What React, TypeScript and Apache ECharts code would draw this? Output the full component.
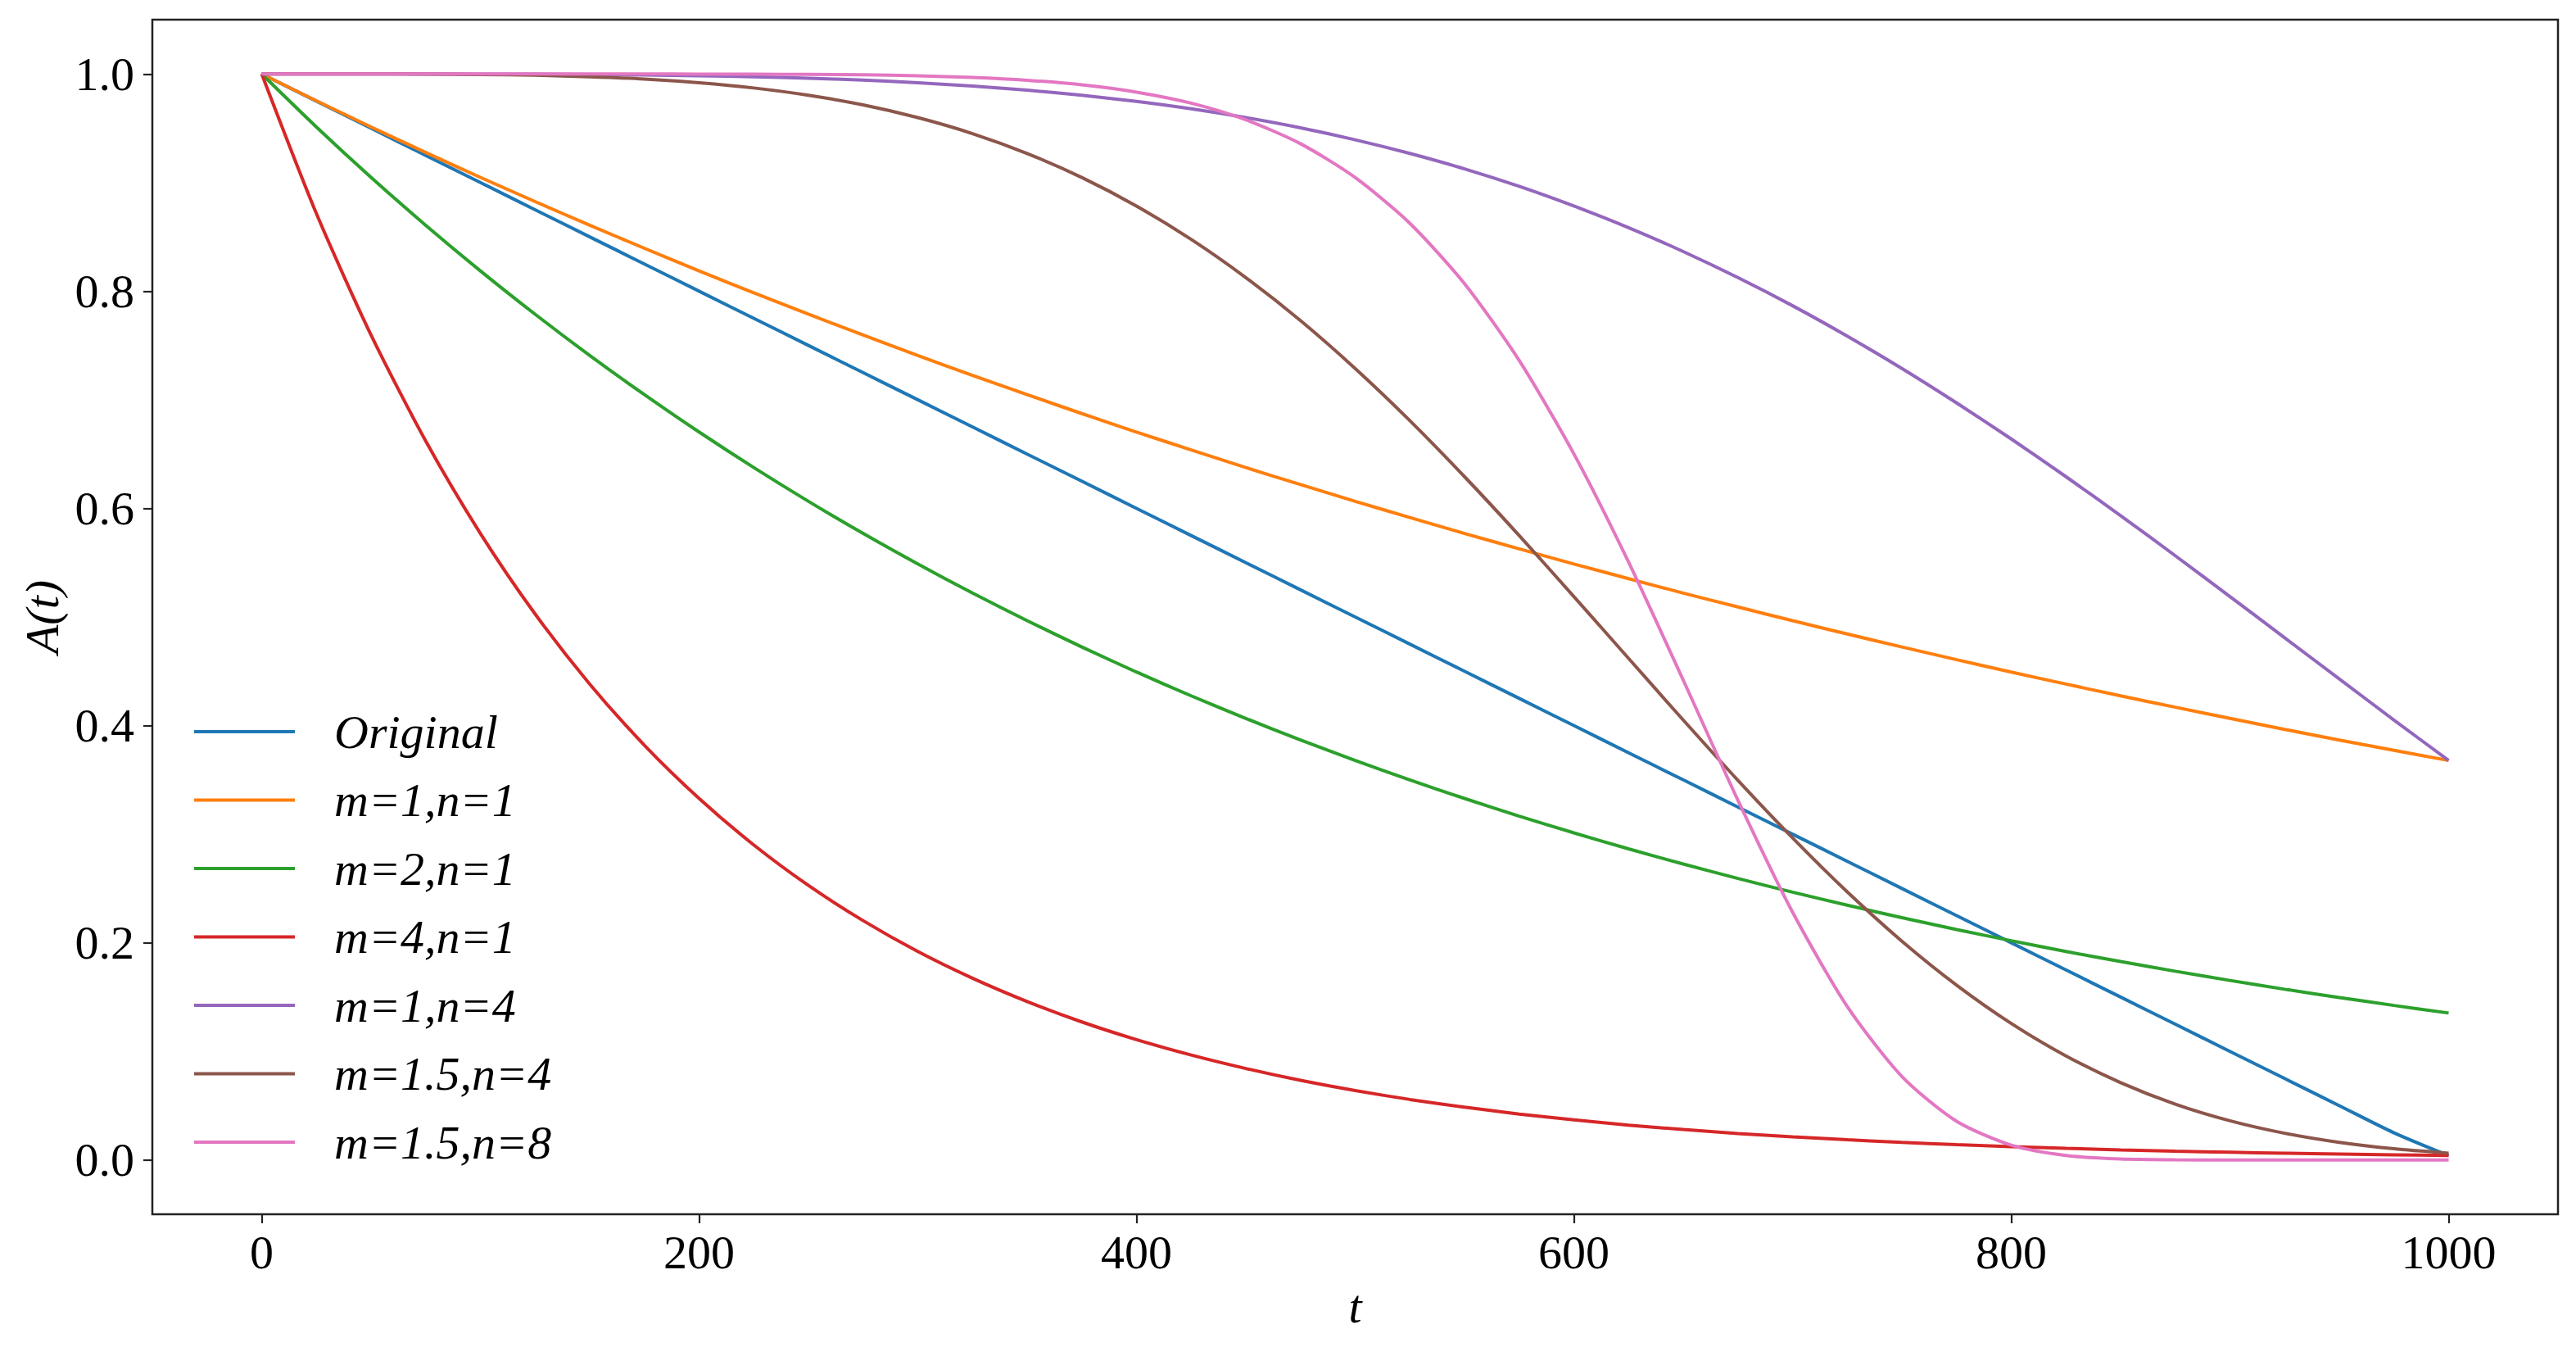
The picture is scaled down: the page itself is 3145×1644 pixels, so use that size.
import React, { useEffect, useRef } from "react";
import * as echarts from "echarts";

// t values (x axis)
const T = [
  0, 25, 50, 75, 100, 125, 150, 175, 200, 225, 250, 275, 300, 325, 350, 375, 400,
  425, 450, 475, 500, 525, 550, 575, 600, 625, 650, 675, 700, 725, 750, 775, 800,
  825, 850, 875, 900, 925, 950, 975, 1000,
];

const ORIGINAL = [
  1, 0.975, 0.95, 0.925, 0.9, 0.875, 0.85, 0.825, 0.8, 0.775, 0.75, 0.725, 0.7, 0.675,
  0.65, 0.625, 0.6, 0.575, 0.55, 0.525, 0.5, 0.475, 0.45, 0.425, 0.4, 0.375, 0.35,
  0.325, 0.3, 0.275, 0.25, 0.225, 0.2, 0.175, 0.15, 0.125, 0.1, 0.075, 0.05, 0.025, 0.004,
];

const M1_N1 = [
  1, 0.9753, 0.9512, 0.9277, 0.9048, 0.8825, 0.8607, 0.8395, 0.8187, 0.7985, 0.7788,
  0.7596, 0.7408, 0.7225, 0.7047, 0.6873, 0.6703, 0.6538, 0.6376, 0.6219, 0.6065,
  0.5916, 0.5769, 0.5627, 0.5488, 0.5353, 0.522, 0.5092, 0.4966, 0.4843, 0.4724,
  0.4607, 0.4493, 0.4382, 0.4274, 0.4169, 0.4066, 0.3965, 0.3867, 0.3772, 0.3679,
];

const M2_N1 = [
  1, 0.9512, 0.9048, 0.8607, 0.8187, 0.7788, 0.7408, 0.7047, 0.6703, 0.6376, 0.6065,
  0.5769, 0.5488, 0.522, 0.4966, 0.4724, 0.4493, 0.4274, 0.4066, 0.3867, 0.3679,
  0.3499, 0.3329, 0.3166, 0.3012, 0.2865, 0.2725, 0.2592, 0.2466, 0.2346, 0.2231,
  0.2122, 0.2019, 0.192, 0.1827, 0.1738, 0.1653, 0.1572, 0.1496, 0.1423, 0.1353,
];

const M4_N1 = [
  1, 0.8715, 0.7596, 0.662, 0.5769, 0.5028, 0.4382, 0.3819, 0.3329, 0.2901, 0.2528,
  0.2204, 0.192, 0.1674, 0.1459, 0.1271, 0.1108, 0.0966, 0.0842, 0.0733, 0.0639,
  0.0557, 0.0486, 0.0423, 0.0369, 0.0321, 0.028, 0.0244, 0.0213, 0.0186, 0.0162,
  0.0141, 0.0123, 0.0107, 0.0093, 0.0081, 0.0071, 0.0062, 0.0054, 0.0047, 0.0041,
];

const M1_N4 = [
  1, 1, 1, 1, 0.9999, 0.9998, 0.9995, 0.9991, 0.9984, 0.9974, 0.9961, 0.9943, 0.9919,
  0.9889, 0.9851, 0.9804, 0.9747, 0.9679, 0.9598, 0.9504, 0.9394, 0.9268, 0.9126,
  0.8965, 0.8784, 0.8585, 0.8365, 0.8125, 0.7866, 0.7586, 0.7288, 0.6971, 0.6639,
  0.6292, 0.5933, 0.5564, 0.5188, 0.4809, 0.4429, 0.4051, 0.3679,
];

const M15_N4 = [
  1, 1, 1, 0.9998, 0.9995, 0.9988, 0.9974, 0.9953, 0.9919, 0.9871, 0.9804, 0.9715,
  0.9598, 0.9451, 0.9268, 0.9047, 0.8784, 0.8477, 0.8125, 0.7729, 0.7288, 0.6808,
  0.6292, 0.575, 0.5188, 0.4619, 0.4051, 0.3496, 0.2966, 0.2469, 0.2015, 0.161,
  0.1257, 0.0958, 0.0712, 0.0514, 0.0361, 0.0246, 0.0162, 0.0103, 0.0063,
];

const M15_N8 = [
  1, 1, 1, 1, 1, 1, 1, 1, 0.9999, 0.9998, 0.9996, 0.9992, 0.9983, 0.9968, 0.9942,
  0.99, 0.9833, 0.9731, 0.9578, 0.9358, 0.9047, 0.8625, 0.8069, 0.7362, 0.6502,
  0.5506, 0.4419, 0.3313, 0.2282, 0.1414, 0.0769, 0.0356, 0.0136, 0.0041, 0.0009,
  0.0002, 0, 0, 0, 0, 0,
];

const SERIES_NAMES = [
  "Original",
  "m=1,n=1",
  "m=2,n=1",
  "m=4,n=1",
  "m=1,n=4",
  "m=1.5,n=4",
  "m=1.5,n=8",
];
const SERIES_VALUES = [ORIGINAL, M1_N1, M2_N1, M4_N1, M1_N4, M15_N4, M15_N8];
const COLORS = ["#1f77b4", "#ff7f0e", "#2ca02c", "#d62728", "#9467bd", "#8c564b", "#e377c2"];

const X_TICKS = [0, 200, 400, 600, 800, 1000];
const Y_TICKS = [0, 0.2, 0.4, 0.6, 0.8, 1.0];

const FONT = "'Liberation Serif', 'Times New Roman', serif";

export default function App() {
  const ref = useRef<HTMLDivElement>(null);

  useEffect(() => {
    if (!ref.current) return;
    const chart = echarts.init(ref.current, undefined, { renderer: "svg" });

    const series = SERIES_NAMES.map((name, i) => ({
      name,
      type: "line",
      data: T.map((t, k) => [t, SERIES_VALUES[i][k]]),
      showSymbol: false,
      symbol: "none",
      smooth: 0.25,
      color: COLORS[i],
      lineStyle: { color: COLORS[i], width: 4 },
      silent: true,
      z: 2 + i,
    }));

    chart.setOption({
      animation: false,
      backgroundColor: "#ffffff",
      grid: {
        left: 186,
        right: 22,
        top: 24,
        bottom: 162,
        show: true,
        borderColor: "#222",
        borderWidth: 2.5,
        backgroundColor: "transparent",
      },
      legend: {
        orient: "vertical",
        left: 237,
        top: 863,
        itemGap: 23.5,
        itemWidth: 123,
        itemHeight: 4,
        icon: "rect",
        padding: 0,
        selectedMode: false,
        data: SERIES_NAMES,
        textStyle: {
          fontFamily: FONT,
          fontSize: 58,
          fontStyle: "italic",
          color: "#000",
          lineHeight: 60,
          padding: [0, 0, 0, 43],
        },
      },
      xAxis: {
        type: "value",
        min: -50,
        max: 1050,
        name: "t",
        nameLocation: "middle",
        nameGap: 83,
        nameTextStyle: { fontFamily: FONT, fontSize: 58, fontStyle: "italic", color: "#000" },
        axisLine: { show: false, onZero: false },
        splitLine: { show: false },
        axisTick: {
          show: true,
          length: 11,
          customValues: X_TICKS,
          lineStyle: { color: "#222", width: 2.2 },
        },
        axisLabel: {
          customValues: X_TICKS,
          margin: 17,
          fontFamily: FONT,
          fontSize: 58,
          color: "#000",
          formatter: (v: number) => String(v),
        },
      },
      yAxis: {
        type: "value",
        min: -0.05,
        max: 1.05,
        name: "A(t)",
        nameLocation: "middle",
        nameGap: 105,
        nameTextStyle: { fontFamily: FONT, fontSize: 58, fontStyle: "italic", color: "#000" },
        axisLine: { show: false, onZero: false },
        splitLine: { show: false },
        axisTick: {
          show: true,
          length: 11,
          customValues: Y_TICKS,
          lineStyle: { color: "#222", width: 2.2 },
        },
        axisLabel: {
          customValues: Y_TICKS,
          margin: 22,
          fontFamily: FONT,
          fontSize: 58,
          color: "#000",
          formatter: (v: number) => v.toFixed(1),
        },
      },
      series,
    });

    return () => {
      chart.dispose();
    };
  }, []);

  return (
    <div
      ref={ref}
      style={{ position: "absolute", left: 0, top: 0, width: 3145, height: 1644, background: "#fff" }}
    />
  );
}
